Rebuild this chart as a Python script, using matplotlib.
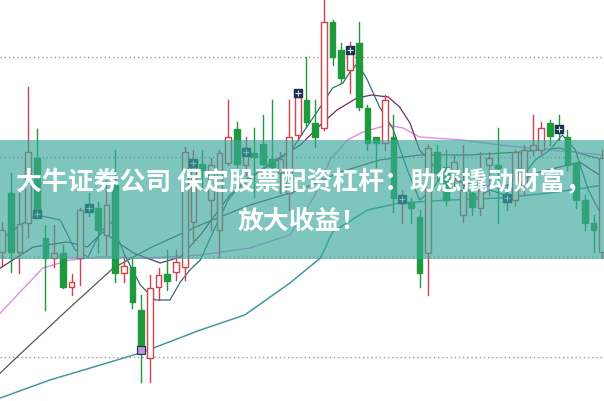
import matplotlib
matplotlib.use("Agg")
import matplotlib.pyplot as plt
from matplotlib.patches import Rectangle

# ---- data (price units) ----
opens  = [15.5,21.4,15.5,18.4,24.9,16.9,14.9,15.4,12.0,14.9,20.1,19.9,17.2,22.2,13.4,14.0,9.7,4.9,12.0,13.3,
          13.5,14.0,18.5,24.3,20.7,17.7,24.4,27.8,24.2,25.4,26.3,24.8,23.4,21.4,27.2,30.7,28.4,27.9,38.5,35.7,
          33.7,36.4,29.9,27.0,26.4,27.0,20.4,20.5,19.0,15.4,25.5,24.0,22.9,19.2,21.4,19.9,24.2,24.2,21.1,20.7,
          22.2,25.7,25.7,28.4,28.1,27.0,24.4,20.7,18.4,15.5]
closes = [17.7,15.5,18.3,25.5,19.4,14.9,15.4,12.0,12.5,19.7,19.5,17.7,20.2,13.4,14.1,10.5,5.7,11.9,13.2,12.6,
          14.5,25.5,24.7,23.7,24.2,25.4,27.0,24.3,25.9,25.0,24.3,24.0,24.8,27.0,31.0,28.5,27.0,38.5,35.0,32.9,
          35.7,30.0,26.4,26.4,30.7,20.9,21.1,19.9,13.4,25.9,23.4,20.7,24.5,21.7,20.0,21.7,24.9,23.9,20.5,25.5,
          25.7,26.2,27.9,27.1,27.6,24.2,20.7,18.4,17.7,24.9]
highs  = [18.5,23.4,21.4,32.0,27.8,18.2,18.2,16.2,13.3,19.9,21.4,20.5,22.7,25.7,15.4,15.0,11.2,13.2,13.9,15.7,
          15.7,26.0,25.7,25.7,24.9,25.7,30.7,28.5,27.0,27.9,29.2,30.7,25.5,30.7,31.7,35.0,30.7,41.7,38.7,36.4,
          36.5,38.5,30.2,27.0,31.2,29.2,21.7,20.9,19.7,26.2,26.2,25.7,25.2,26.2,22.2,25.5,25.5,27.9,22.2,25.7,
          26.2,29.2,28.5,28.7,29.2,27.7,24.5,21.2,19.2,25.7]
lows   = [14.2,13.5,13.4,17.0,19.0,9.7,14.0,11.9,11.2,12.2,19.1,15.5,15.2,12.5,12.5,9.9,2.5,2.5,10.7,11.7,
          12.7,12.7,16.7,22.0,17.7,15.0,24.2,24.0,23.2,21.0,24.2,23.9,21.4,19.7,26.7,28.0,26.0,27.7,34.2,32.4,
          31.4,29.7,25.7,24.0,25.7,19.5,18.4,18.4,12.0,11.2,22.7,20.2,21.7,18.5,19.2,19.2,21.2,18.4,19.7,20.2,
          21.2,25.2,25.2,26.2,26.7,23.7,19.9,17.7,15.5,14.9]

marker_days   = [4, 10, 22, 28, 34, 40, 46, 58, 64]
marker_prices = [19.3, 19.9, 24.4, 25.5, 31.4, 35.7, 20.8, 20.9, 27.8]
special_day, special_price = 16, 5.7

ma5_x  = [-0.2,2.1,4.0,6.7,8.4,9.9,11.3,12.6,14.1,15.9,17.6,19.3,20.5,21.6,22.8,24.1,26.0,27.9,29.9,31.7,33.3,34.8,
          36.6,38.0,39.2,40.0,40.9,42.0,43.4,44.9,46.6,48.0,49.4,50.9,52.6,54.4,56.1,57.8,59.5,61.3,63.0,64.4,65.9,67.4,69.2]
ma5_y  = [16.7,18.2,19.2,18.7,15.7,15.0,17.5,18.5,15.2,12.2,10.7,10.7,12.5,13.7,14.7,17.2,20.7,22.7,23.7,24.7,25.7,27.7,
          30.0,31.9,32.4,33.5,34.4,32.7,30.0,27.9,23.7,20.7,21.7,23.5,22.7,20.9,21.7,21.2,22.7,24.7,25.7,27.2,25.7,21.7,18.7]
ma10_x = [-0.2,3.6,7.5,9.8,11.6,15.1,18.2,20.5,22.8,26.2,30.5,34.3,36.6,38.5,40.8,42.5,44.4,45.7,46.9,48.0,50.3,52.6,57.2,61.8,66.4,69.2]
ma10_y = [13.9,16.0,16.5,16.0,17.5,15.4,14.4,15.0,17.2,21.2,24.2,26.2,28.2,29.7,30.9,31.2,31.0,30.0,28.4,25.7,23.5,22.5,21.9,23.5,24.5,22.9]
ma20_x = [-0.2,4.7,7.8,11.3,17.0,22.8,28.5,33.1,36.0,37.7,39.7,41.5,44.3,46.1,48.0,53.0,57.2,63.0,69.2]
ma20_y = [9.4,13.9,14.7,15.0,14.9,15.2,15.9,17.2,21.2,24.7,26.7,27.5,28.2,27.9,27.0,26.7,26.2,25.7,25.2]
ma30_x = [-0.2,3.2,7.5,12.8,17.0,22.8,28.5,34.3,38.9,43.4,48.0,53.8,59.5,64.1,69.2]
ma30_y = [3.4,6.2,9.7,13.9,15.9,18.2,20.2,21.7,23.5,24.7,25.2,25.2,25.5,25.9,24.7]
ma60_x = [-0.2,5.5,11.3,15.9,22.8,27.9,33.1,36.6,38.0,42.0,45.7,51.5,57.2,63.0,69.2]
ma60_y = [0.9,2.7,4.2,5.4,7.7,9.2,12.4,14.9,17.5,19.7,20.4,20.7,20.9,21.4,22.2]

grid_levels = [35, 25, 15, 5]

title_line1 = "大牛证券公司 保定股票配资杠杆：助您撬动财富，"
title_line2 = "放大收益！"

# ---- drawing ----
RED = "#d6404a"
GREEN = "#1e9a3c"

fig = plt.figure(figsize=(6.04, 4.01), dpi=100)
ax = fig.add_axes([0, 0, 1, 1])
ax.set_xlim(-0.23, 69.2)
ax.set_ylim(0.6, 40.7)
ax.axis("off")

for g in grid_levels:
    ax.axhline(g, color="#9a9a9a", lw=1.0, ls=(0, (1, 2)), zorder=1)

w = 0.66
for i, (o, c, h, l) in enumerate(zip(opens, closes, highs, lows)):
    up = c >= o
    col = RED if up else GREEN
    top, bot = max(o, c), min(o, c)
    ax.plot([i, i], [top, h], color=col, lw=1.0, zorder=3)
    ax.plot([i, i], [l, bot], color=col, lw=1.0, zorder=3)
    hgt = max(top - bot, 0.15)
    if up:
        ax.add_patch(Rectangle((i - w / 2, bot), w, hgt, facecolor="white", edgecolor=col, lw=1.0, zorder=4))
    else:
        ax.add_patch(Rectangle((i - w / 2, bot), w, hgt, facecolor=col, edgecolor=col, lw=1.0, zorder=4))

ax.plot(ma60_x, ma60_y, color="#3f9aa0", lw=1.1, zorder=2)
ax.plot(ma30_x, ma30_y, color="#4d5e4c", lw=0.9, zorder=2)
ax.plot(ma20_x, ma20_y, color="#e48be6", lw=1.0, zorder=2)
ax.plot(ma10_x, ma10_y, color="#6c2e62", lw=0.9, zorder=2)
ax.plot(ma5_x, ma5_y, color="#2f6f80", lw=0.9, zorder=2)

ax.scatter(marker_days, marker_prices, marker="s", s=40, color="#1c3350", zorder=6)
ax.scatter(marker_days, marker_prices, marker="+", s=14, color="#d0e6ee", lw=0.8, zorder=7)
ax.scatter([special_day], [special_price], marker="s", s=40, color="#b79ad8", edgecolors="#1c3350", lw=0.8, zorder=6)

# banner overlay
fig.patches.append(Rectangle((0, 1 - 259 / 401), 1, (259 - 140) / 401, transform=fig.transFigure,
                             facecolor="#3aa89c", alpha=0.66, zorder=10))

fam = ["Noto Sans CJK SC", "DejaVu Sans"]
fig.text(0.503, 1 - 183 / 401, title_line1, ha="center", va="center", color="white",
         fontsize=18.6, fontweight="bold", family=fam, zorder=11)
fig.text(0.5, 1 - 221 / 401, title_line2, ha="center", va="center", color="white",
         fontsize=18.6, fontweight="bold", family=fam, zorder=11)

fig.savefig("out.png", dpi=100)
